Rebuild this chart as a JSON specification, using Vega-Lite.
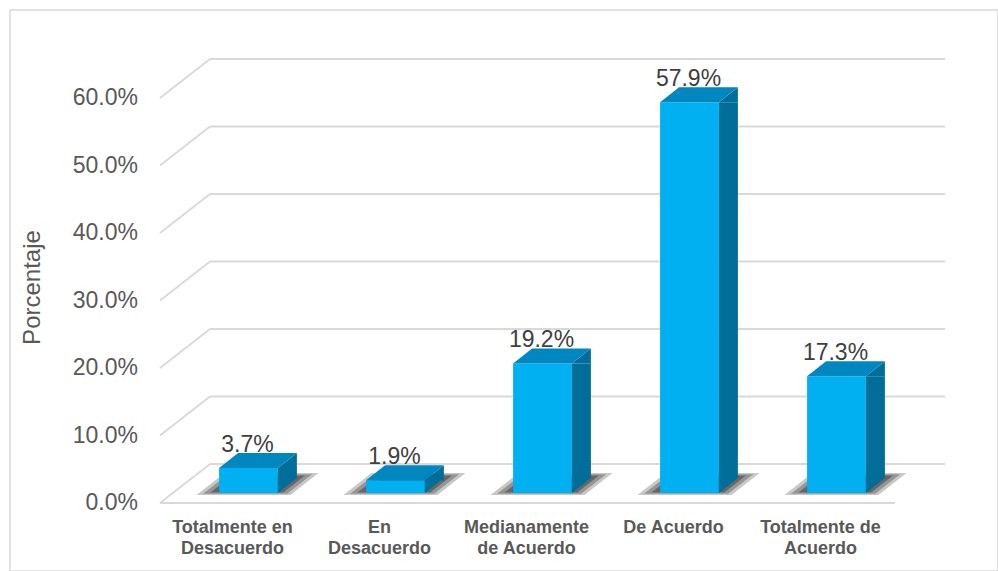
{
  "$schema": "https://vega.github.io/schema/vega-lite/v6.json",
  "width": 988,
  "height": 561,
  "autosize": "none",
  "padding": {"left": 10, "top": 10, "right": 0, "bottom": 0},
  "background": "white",
  "config": {
    "view": {"stroke": "#D9D9D9", "strokeWidth": 1.5},
    "font": "Liberation Sans",
    "axis": {"labelFont": "Liberation Sans", "titleFont": "Liberation Sans"}
  },
  "datasets": {
    "ticks": [{"v": 0}, {"v": 0.1}, {"v": 0.2}, {"v": 0.3}, {"v": 0.4}, {"v": 0.5}, {"v": 0.6}],
    "resp": [
      {"cat": "Totalmente en Desacuerdo", "pct": 0.037},
      {"cat": "En Desacuerdo", "pct": 0.019},
      {"cat": "Medianamente de Acuerdo", "pct": 0.192},
      {"cat": "De Acuerdo", "pct": 0.579},
      {"cat": "Totalmente de Acuerdo", "pct": 0.173}
    ]
  },
  "layer": [
    {
      "data": {"name": "ticks"},
      "layer": [
        {
          "mark": {"type": "rule", "color": "#D9D9D9", "strokeWidth": 1.8, "xOffset": 50, "x2Offset": 50, "yOffset": -29},
          "encoding": {
            "x": {"datum": 0, "type": "quantitative", "scale": {"domain": [0, 1], "range": [150, 885], "nice": false, "zero": false}, "axis": null},
            "x2": {"datum": 1},
            "y": {
              "field": "v", "type": "quantitative",
              "scale": {"domain": [0, 0.6], "range": [483, 78], "nice": false, "zero": true},
              "axis": null
            }
          }
        },
        {
          "mark": {"type": "rule", "color": "#D9D9D9", "strokeWidth": 1.8, "yOffset": 10, "y2Offset": -29, "x2Offset": 50},
          "encoding": {
            "x": {"datum": 0, "type": "quantitative", "axis": null},
            "x2": {"datum": 0},
            "y": {"field": "v", "type": "quantitative", "axis": null},
            "y2": {"field": "v"}
          }
        },
        {
          "transform": [{"filter": "datum.v == 0"}],
          "mark": {"type": "rule", "color": "#D9D9D9", "strokeWidth": 1.8, "yOffset": 10},
          "encoding": {
            "x": {"datum": 0, "type": "quantitative", "axis": null},
            "x2": {"datum": 1},
            "y": {"field": "v", "type": "quantitative", "axis": null}
          }
        },
        {
          "mark": {"type": "text", "fontSize": 23, "color": "#595959", "align": "right", "baseline": "middle", "xOffset": -22, "yOffset": 10},
          "encoding": {
            "x": {"datum": 0, "type": "quantitative", "axis": null},
            "y": {"field": "v", "type": "quantitative", "axis": null},
            "text": {"field": "v", "type": "quantitative", "format": ".1%"}
          }
        },
        {
          "data": {"values": [{"t": "Porcentaje"}]},
          "mark": {"type": "text", "fontSize": 24, "color": "#595959", "align": "center", "baseline": "middle", "angle": 270, "xOffset": -127, "yOffset": -3},
          "encoding": {
            "x": {"datum": 0, "type": "quantitative", "axis": null},
            "y": {"datum": 0.3, "type": "quantitative", "axis": null},
            "text": {"field": "t", "type": "nominal"}
          }
        }
      ]
    },
    {
      "data": {"name": "resp"},
      "encoding": {
        "x": {
          "field": "cat", "type": "nominal", "sort": null,
          "scale": {"type": "band", "range": [165, 900], "paddingInner": 0, "paddingOuter": 0},
          "axis": {
            "title": null, "offset": -68, "domain": false, "ticks": false, "tickSize": 0, "grid": false,
            "labelPadding": 15, "labelOffset": -16, "labelAngle": 0, "labelFontSize": 18, "labelFontWeight": "bold",
            "labelColor": "#595959", "labelLineHeight": 21, "labelBaseline": "top", "labelOverlap": false, "labelLimit": 250,
            "labelExpr": "datum.value == 'Totalmente en Desacuerdo' ? ['Totalmente en', 'Desacuerdo'] : datum.value == 'En Desacuerdo' ? ['En', 'Desacuerdo'] : datum.value == 'Medianamente de Acuerdo' ? ['Medianamente', 'de Acuerdo'] : datum.value == 'Totalmente de Acuerdo' ? ['Totalmente de', 'Acuerdo'] : datum.label"
          }
        }
      },
      "layer": [
        {
          "mark": {"type": "point", "shape": "M-62,11L32,11L60,-11L-34,-11Z", "size": 4, "filled": true, "color": "#222222", "opacity": 0.25, "xOffset": 10, "yOffset": -9},
          "encoding": {"y": {"datum": 0, "type": "quantitative", "axis": null}}
        },
        {
          "mark": {"type": "point", "shape": "M-62,11L32,11L60,-11L-34,-11Z", "size": 3.2, "filled": true, "color": "#222222", "opacity": 0.3, "xOffset": 10, "yOffset": -9},
          "encoding": {"y": {"datum": 0, "type": "quantitative", "axis": null}}
        },
        {
          "mark": {"type": "point", "shape": "M-62,11L32,11L60,-11L-34,-11Z", "size": 2.4, "filled": true, "color": "#222222", "opacity": 0.4, "xOffset": 10, "yOffset": -9},
          "encoding": {"y": {"datum": 0, "type": "quantitative", "axis": null}}
        },
        {
          "mark": {"type": "point", "shape": "M-62,11L32,11L60,-11L-34,-11Z", "size": 1.7, "filled": true, "color": "#222222", "opacity": 0.5, "xOffset": 10, "yOffset": -9},
          "encoding": {"y": {"datum": 0, "type": "quantitative", "axis": null}}
        },
        {
          "mark": {"type": "bar", "color": "#00B0F0", "width": {"band": 0.4}},
          "encoding": {"y": {"field": "pct", "type": "quantitative", "axis": null}}
        },
        {
          "mark": {"type": "rule", "color": "#006E99", "strokeWidth": 19, "strokeCap": "butt", "xOffset": 38.9, "y2Offset": -15},
          "encoding": {
            "y": {"field": "pct", "type": "quantitative", "axis": null},
            "y2": {"datum": 0}
          }
        },
        {
          "mark": {"type": "point", "shape": "M29.4,0L48.4,-15L48.4,0Z", "size": 4, "filled": true, "color": "#006E99", "opacity": 1},
          "encoding": {"y": {"field": "pct", "type": "quantitative", "axis": null}}
        },
        {
          "mark": {"type": "point", "shape": "M29.4,-15L29.4,0L48.4,-15Z", "size": 4, "filled": true, "color": "#006E99", "opacity": 1},
          "encoding": {"y": {"datum": 0, "type": "quantitative", "axis": null}}
        },
        {
          "mark": {"type": "point", "shape": "M-29.4,0L29.4,0L48.4,-15L-10.4,-15Z", "size": 4, "filled": true, "color": "#0087C0", "opacity": 1},
          "encoding": {"y": {"field": "pct", "type": "quantitative", "axis": null}}
        },
        {
          "mark": {"type": "text", "fontSize": 23, "color": "#404040", "baseline": "alphabetic", "align": "center", "xOffset": -1, "yOffset": -16.5},
          "encoding": {
            "y": {"field": "pct", "type": "quantitative", "axis": null},
            "text": {"field": "pct", "type": "quantitative", "format": ".1%"}
          }
        }
      ]
    }
  ],
  "resolve": {"scale": {"x": "independent"}}
}
